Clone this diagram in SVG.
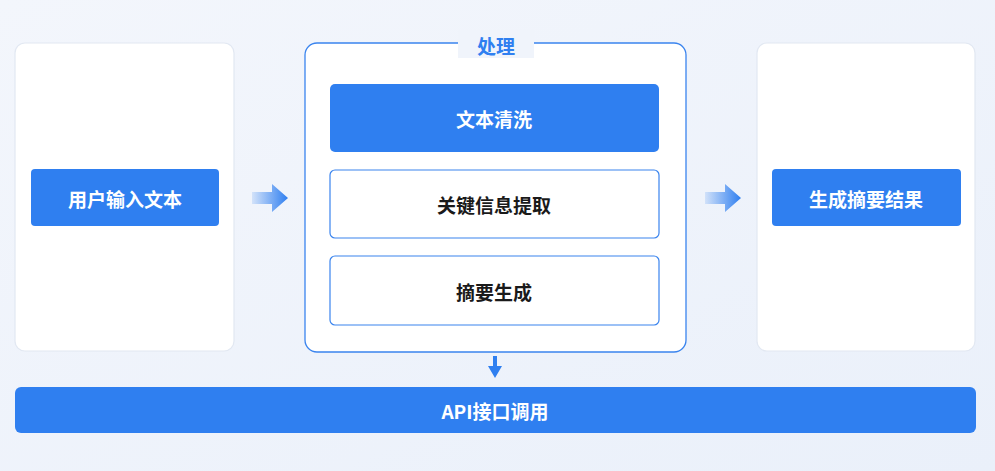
<svg xmlns="http://www.w3.org/2000/svg" width="995" height="471" viewBox="0 0 995 471">
<defs>
<linearGradient id="bg" x1="0" y1="0" x2="1" y2="1"><stop offset="0" stop-color="#f3f6fc"/><stop offset="1" stop-color="#eaf0fa"/></linearGradient>
<linearGradient id="ar" x1="0" y1="0" x2="1" y2="0"><stop offset="0" stop-color="#2f7ff0" stop-opacity="0.15"/><stop offset="1" stop-color="#2f7ff0"/></linearGradient>
<style>
.panel{fill:#fff;stroke:#e2e8f2;stroke-width:1.2}
.blue{fill:#2f7ff0}
.wbox{fill:#fff;stroke:#3a84ee;stroke-width:1.2}
.t{font-family:"Noto Sans CJK SC","Noto Sans",sans-serif;font-weight:bold;font-size:19px;text-anchor:middle;dominant-baseline:central}
.w{fill:#fff}.k{fill:#1a1a1a}
</style>
</defs>
<rect width="995" height="471" fill="url(#bg)"/>
<g id="input"><rect class="panel" x="15" y="43" width="219" height="308" rx="10"/>
<rect class="blue" x="31" y="169" width="188" height="57" rx="4"/><text class="t w" x="125" y="198">用户输入文本</text></g>
<g id="process"><rect x="305" y="43" width="381" height="309" rx="12" fill="#fff" stroke="#3a84ee" stroke-width="1.3"/>
<rect x="458" y="30" width="76" height="28" fill="#f0f4fb"/>
<text class="t" x="496" y="45" fill="#2f7ff0" font-size="21">处理</text></g>
<g id="clean"><rect class="blue" x="330" y="84" width="329" height="68" rx="5"/><text class="t w" x="494" y="118">文本清洗</text></g>
<g id="extract"><rect class="wbox" x="330" y="170" width="329" height="68" rx="5"/><text class="t k" x="494" y="204">关键信息提取</text></g>
<g id="summ"><rect class="wbox" x="330" y="256" width="329" height="69" rx="5"/><text class="t k" x="494" y="291">摘要生成</text></g>
<g id="output"><rect class="panel" x="757" y="43" width="218" height="308" rx="10"/>
<rect class="blue" x="772" y="169" width="189" height="57" rx="4"/><text class="t w" x="866" y="198">生成摘要结果</text></g>
<g id="api"><rect class="blue" x="15" y="387" width="961" height="46" rx="6"/><text class="t w" x="495" y="410">API接口调用</text></g>
<g id="connectors">
<path d="M252 192h20v-8l16 14-16 14v-8h-20z" fill="url(#ar)"/>
<path d="M705 192h20v-8l16 14-16 14v-8h-20z" fill="url(#ar)"/>
<path d="M493 356h4v10h5l-7 12-7-12h5z" fill="#2f7ff0"/>
</g>
</svg>
